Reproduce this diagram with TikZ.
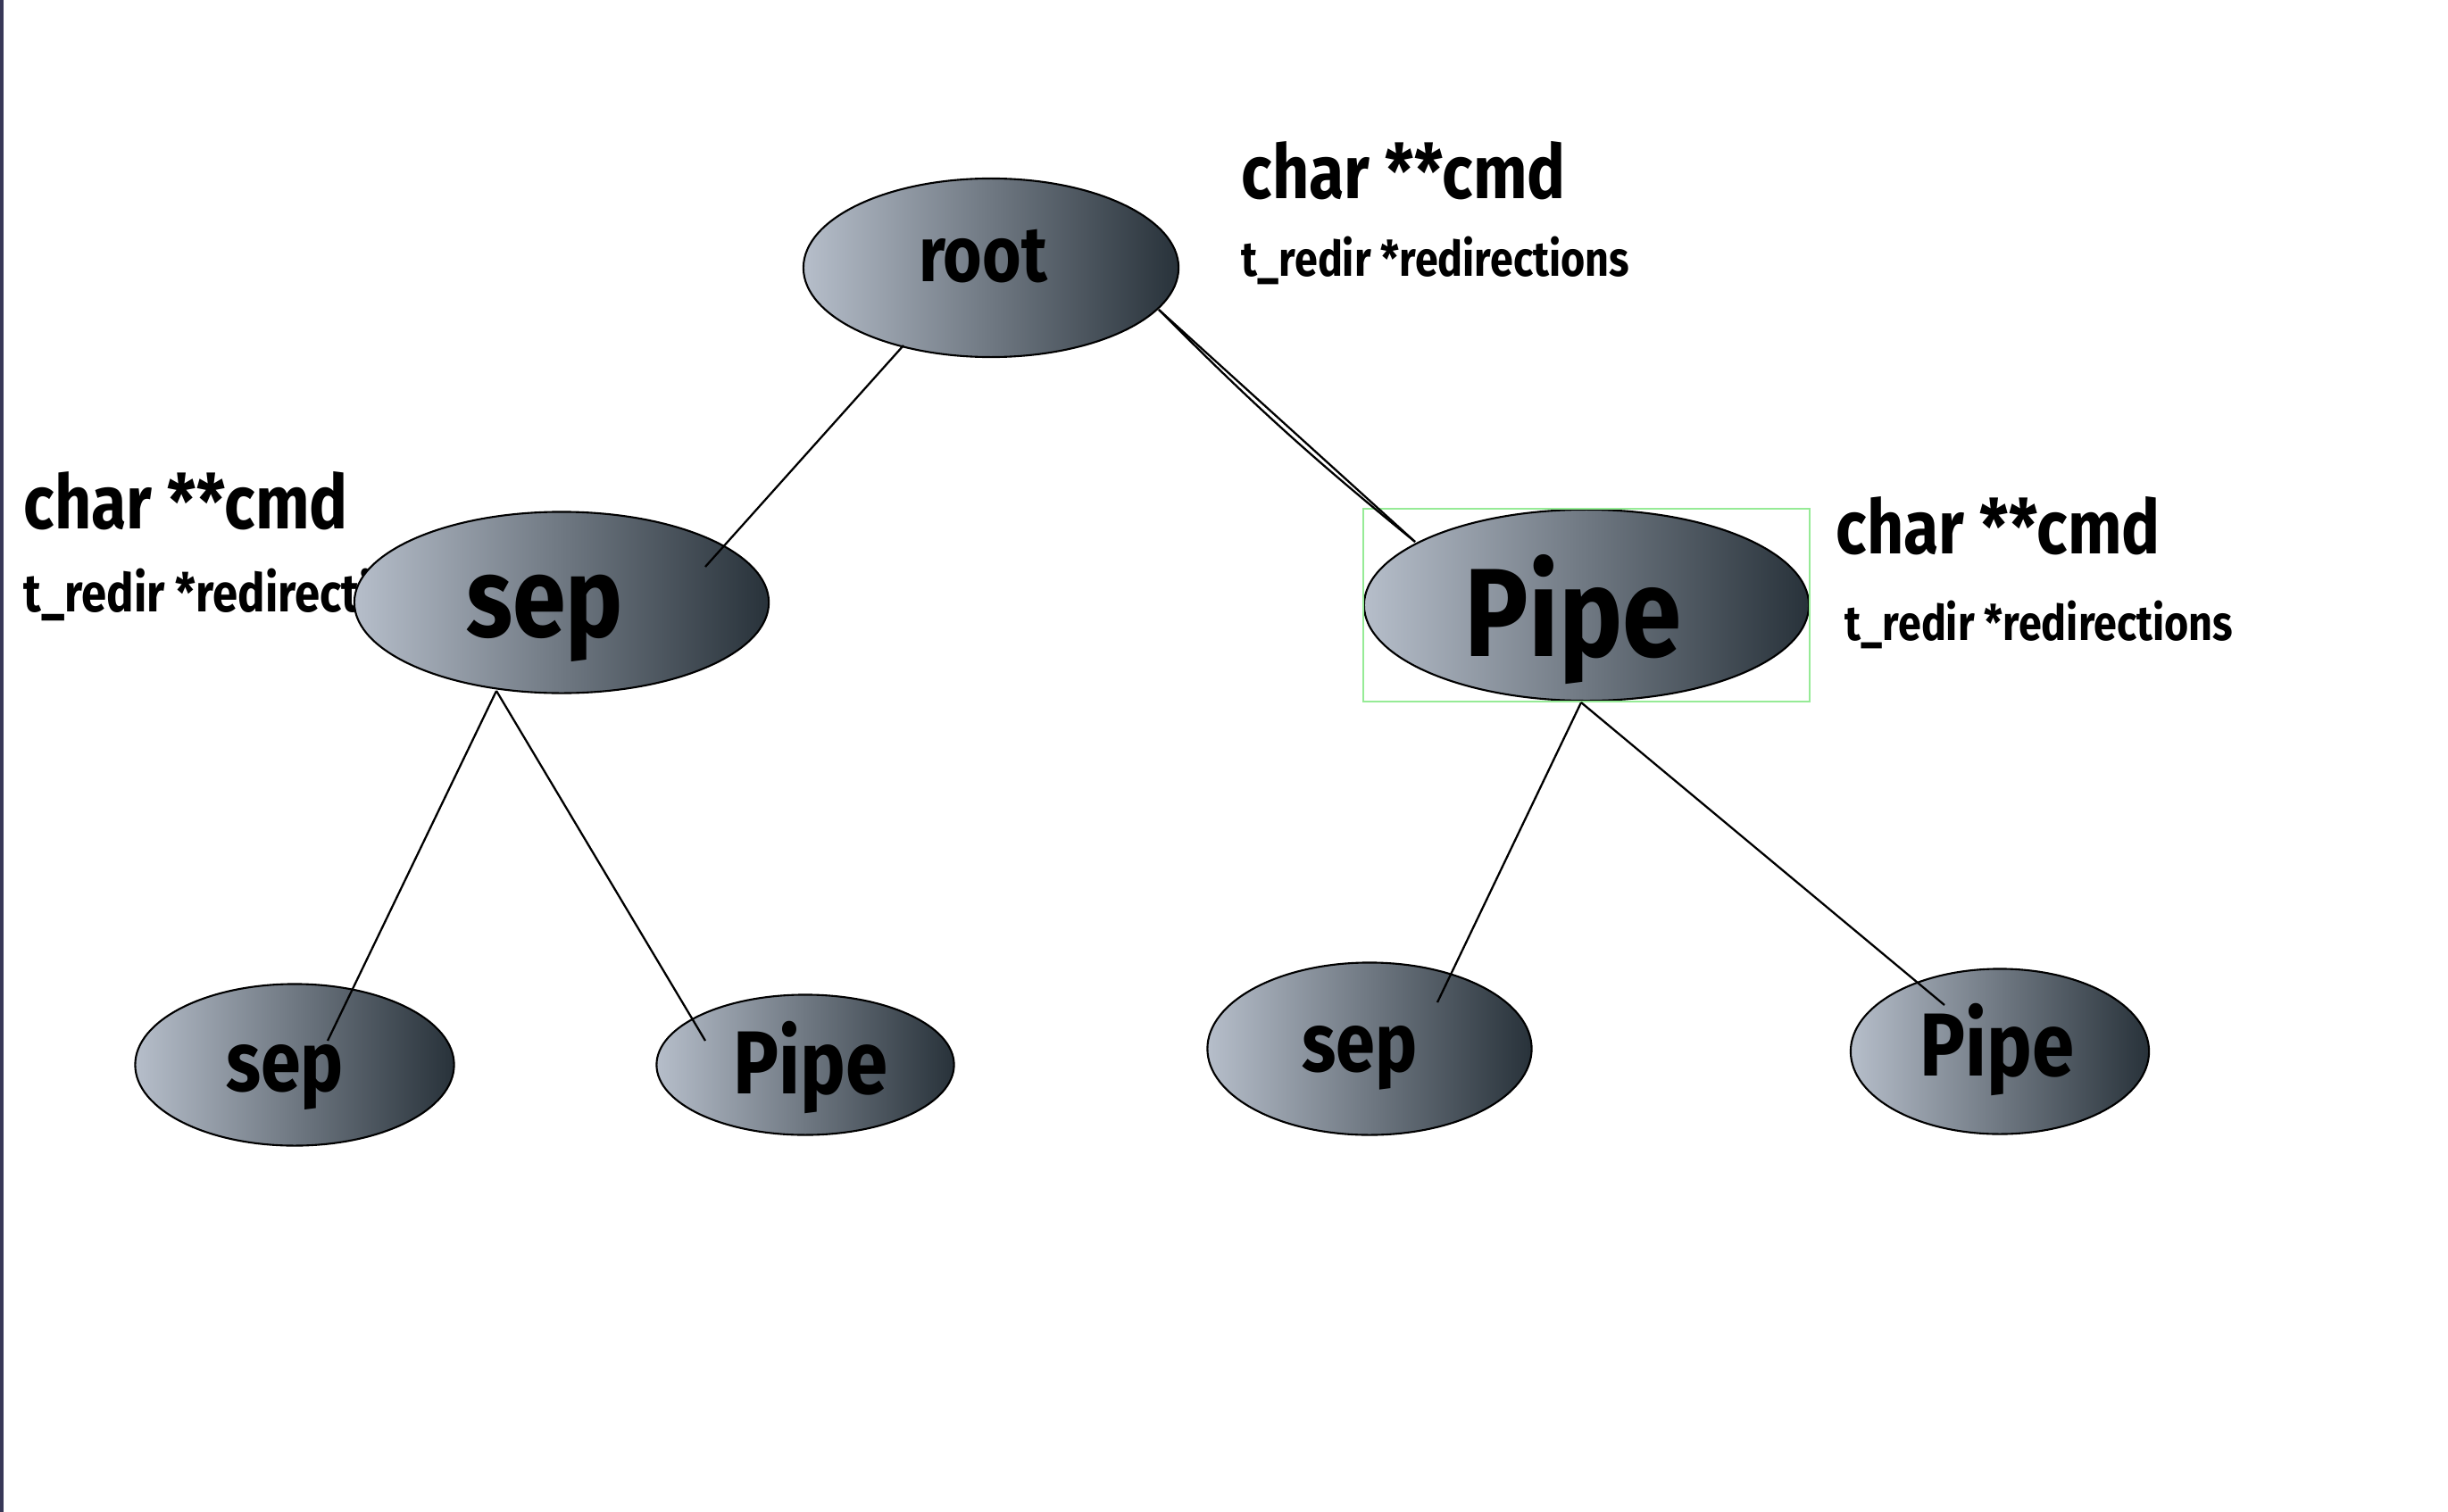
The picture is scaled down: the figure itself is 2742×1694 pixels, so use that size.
\documentclass[tikz,border=0pt]{standalone}
\usepackage{fontspec}
\setmainfont{Fira Sans}[FakeStretch=0.85]
\usetikzlibrary{shapes.geometric}
\definecolor{nodelight}{RGB}{182,190,202}
\definecolor{nodedark}{RGB}{40,50,58}
\definecolor{boxgreen}{RGB}{150,235,150}
\definecolor{edgestrip}{RGB}{56,56,88}
\newcommand{\fsz}[1]{\fontsize{#1}{#1}\selectfont\bfseries}
\begin{document}
\begin{tikzpicture}[x=0.01cm,y=-0.01cm]
	\tikzstyle{every node}+=[inner sep=0pt]
	\tikzstyle{tree node}=[ellipse, draw=black, line width=0.6pt, left color=nodelight, right color=nodedark, text depth=0pt]
	\tikzstyle{field}=[anchor=base west]
	\tikzstyle{link}=[black, line width=0.65pt]
	\useasboundingbox (0,0) rectangle (2742,1694);
	\fill [white] (0,0) rectangle (2742,1694);
	\fill [edgestrip] (0,0) rectangle (4,1694);
	\node [field] (cmdroot) at (1390,222) {\fsz{24pt}char **cmd};
	\node [field] (redroot) at (1390,310) {\fsz{15.6pt}t\_redir *redirections};
	\node [field] (cmdsep) at (26,592) {\fsz{24pt}char **cmd};
	\node [field] (redsep) at (26,685) {\fsz{17pt}t\_redir *redirections};
	\node [field] (cmdpipe) at (2056,620) {\fsz{24pt}char **cmd};
	\node [field] (redpipe) at (2066,717) {\fsz{15.6pt}t\_redir *redirections};
	\node [tree node, minimum width=4.2cm, minimum height=2cm, text height=0.30cm] (root) at (1110,300) {\fsz{25pt}root\hspace*{0.18cm}};
	\node [tree node, minimum width=4.64cm, minimum height=2.03cm, text height=0.76cm] (sepA) at (629,675) {\fsz{36pt}sep\hspace*{0.38cm}};
	\node [tree node, minimum width=4.98cm, minimum height=2.14cm, text height=1.14cm] (pipeA) at (1777,678) {\fsz{40pt}Pipe\hspace*{0.3cm}};
	\node [tree node, minimum width=3.57cm, minimum height=1.81cm, text height=0.58cm] (sepB) at (330,1193) {\fsz{27pt}sep\hspace*{0.22cm}};
	\node [tree node, minimum width=3.33cm, minimum height=1.57cm, text height=0.64cm] (pipeB) at (902,1193) {\hspace*{0.12cm}\fsz{28.5pt}Pipe};
	\node [tree node, minimum width=3.63cm, minimum height=1.93cm, text height=0.50cm] (sepC) at (1534,1175) {\fsz{26.5pt}sep\hspace*{0.22cm}};
	\node [tree node, minimum width=3.34cm, minimum height=1.85cm, text height=0.54cm] (pipeC) at (2240,1178) {\fsz{28.5pt}Pipe\hspace*{0.06cm}};
	\draw [boxgreen, line width=0.5pt] (pipeA.west |- pipeA.north) rectangle (pipeA.east |- pipeA.south);
	\draw [link] ([shift={(-98,87)}]root.center) -- ([shift={(161,-40)}]sepA.center);
	\draw [link] ([shift={(188,47)}]root.center) -- ([shift={(-192,-71)}]pipeA.center);
	\draw [link] ([shift={(188,47)}]root.center) to [bend right=3] ([shift={(-192,-71)}]pipeA.center);
	\draw [link] ([shift={(-73,99)}]sepA.center) -- ([shift={(37,-27)}]sepB.center);
	\draw [link] ([shift={(-73,99)}]sepA.center) -- ([shift={(-112,-27)}]pipeB.center);
	\draw [link] ([shift={(-6,109)}]pipeA.center) -- ([shift={(76,-52)}]sepC.center);
	\draw [link] ([shift={(-6,109)}]pipeA.center) -- ([shift={(-62,-52)}]pipeC.center);
\end{tikzpicture}
\end{document}
